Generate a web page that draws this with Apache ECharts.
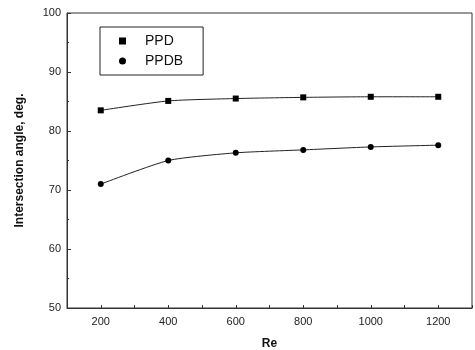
<!DOCTYPE html>
<html><head><meta charset="utf-8">
<script src="https://cdn.jsdelivr.net/npm/echarts@6/dist/echarts.min.js"></script>
<style>html,body{margin:0;padding:0;background:#fff}#c{width:475px;height:350px}</style>
</head><body><div id="c"></div>
<script>
const reValues = [200, 400, 600, 800, 1000, 1200];
const ppd = [83.5, 85.1, 85.5, 85.7, 85.8, 85.8];
const ppdb = [71.0, 75.0, 76.3, 76.8, 77.3, 77.6];
const seriesNames = ['PPD', 'PPDB'];

const chart = echarts.init(document.getElementById('c'), null, {renderer: 'canvas'});
const font = 'Liberation Sans, Arial, sans-serif';
chart.setOption({
  animation: false,
  backgroundColor: '#fff',
  grid: {left: 67, right: 3, top: 13, bottom: 42, show: true, borderColor: '#333', borderWidth: 1,
         containLabel: false, outerBoundsMode: 'none'},
  legend: {
    orient: 'vertical', left: 100, top: 27,
    borderColor: '#222', borderWidth: 1, padding: [7, 20, 7, 19],
    itemWidth: 7, itemHeight: 7, itemGap: 6,
    textStyle: {fontFamily: font, fontSize: 14, color: '#111', padding: [0, 0, 0, 14]},
    data: [{name: seriesNames[0], icon: 'rect'}, {name: seriesNames[1], icon: 'circle'}]
  },
  xAxis: {
    type: 'value', min: 100, max: 1300, interval: 100,
    name: 'Re', nameLocation: 'middle', nameGap: 30,
    nameTextStyle: {fontFamily: font, fontSize: 12, fontWeight: 'bold', color: '#111'},
    axisLine: {lineStyle: {color: '#333'}},
    axisTick: {inside: true, length: 3, lineStyle: {color: '#333'}},
    splitLine: {show: false},
    axisLabel: {fontFamily: font, fontSize: 11, color: '#222', margin: 8,
      formatter: v => (v % 200 === 0 && v >= 200 && v <= 1200) ? String(v) : ''}
  },
  yAxis: {
    type: 'value', min: 50, max: 100, interval: 10,
    name: 'Intersection angle, deg.', nameLocation: 'middle', nameGap: 41,
    nameTextStyle: {fontFamily: font, fontSize: 12, fontWeight: 'bold', color: '#111'},
    axisLine: {show: true, lineStyle: {color: '#333'}},
    axisTick: {show: true, inside: true, length: 4, lineStyle: {color: '#333'}},
    minorTick: {show: true, splitNumber: 2, length: 2, lineStyle: {color: '#333'}},
    splitLine: {show: false},
    axisLabel: {fontFamily: font, fontSize: 11, color: '#222', margin: 6}
  },
  series: [
    {name: seriesNames[0], type: 'line', smooth: 0.2, symbol: 'rect', symbolSize: 6,
     itemStyle: {color: '#000'}, lineStyle: {color: '#222', width: 1},
     data: reValues.map((x, i) => [x, ppd[i]])},
    {name: seriesNames[1], type: 'line', smooth: 0.2, symbol: 'circle', symbolSize: 6,
     itemStyle: {color: '#000'}, lineStyle: {color: '#222', width: 1},
     data: reValues.map((x, i) => [x, ppdb[i]])}
  ]
});
</script></body></html>
